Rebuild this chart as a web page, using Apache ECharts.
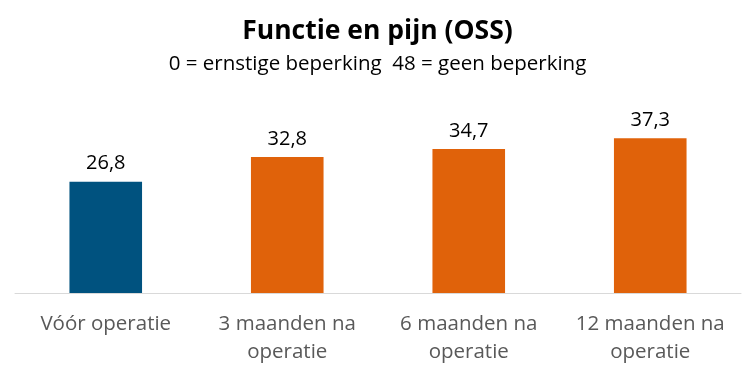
<!DOCTYPE html>
<html>
<head>
<meta charset="utf-8">
<script src="https://cdn.jsdelivr.net/npm/echarts@6/dist/echarts.min.js"></script>
<style>html,body{margin:0;padding:0;background:#fff}#c{width:755px;height:375px}</style>
</head>
<body>
<div id="c"></div>
<script>
const titleText = 'Functie en pijn (OSS)';
const subtitleText = '0 = ernstige beperking  48 = geen beperking';
const categories = ['Vóór operatie', '3 maanden na\noperatie', '6 maanden na\noperatie', '12 maanden na\noperatie'];
const values = [26.8, 32.8, 34.7, 37.3];
const barColors = ['#00527F', '#E0620A', '#E0620A', '#E0620A'];

const FONT = 'Open Sans';
const chart = echarts.init(document.getElementById('c'));
chart.setOption({
  animation: false,
  title: {
    text: titleText,
    subtext: subtitleText,
    left: 'center',
    top: 13,
    itemGap: 9,
    textStyle: { fontFamily: FONT, fontSize: 26.5, fontWeight: 'bold', color: '#000' },
    subtextStyle: { fontFamily: FONT, fontSize: 20.5, color: '#000' }
  },
  grid: { left: 15, right: 14, top: 127, bottom: 82, containLabel: false },
  xAxis: {
    type: 'category',
    data: categories,
    axisLine: { lineStyle: { color: '#D9D9D9', width: 1 } },
    axisTick: { show: false },
    axisLabel: { interval: 0, margin: 17, fontFamily: FONT, fontSize: 20.5, lineHeight: 28, color: '#595959' }
  },
  yAxis: {
    type: 'value', min: 0, max: 40, interval: 10, show: false,
    splitLine: { show: false }
  },
  series: [{
    type: 'bar',
    barWidth: '40%',
    data: values.map((v, i) => ({ value: v, itemStyle: { color: barColors[i] } })),
    label: {
      show: true, position: 'top', distance: 8,
      fontFamily: FONT, fontSize: 20, color: '#000',
      formatter: p => String(p.value.toFixed(1)).replace('.', ',')
    }
  }]
});
</script>
</body>
</html>
